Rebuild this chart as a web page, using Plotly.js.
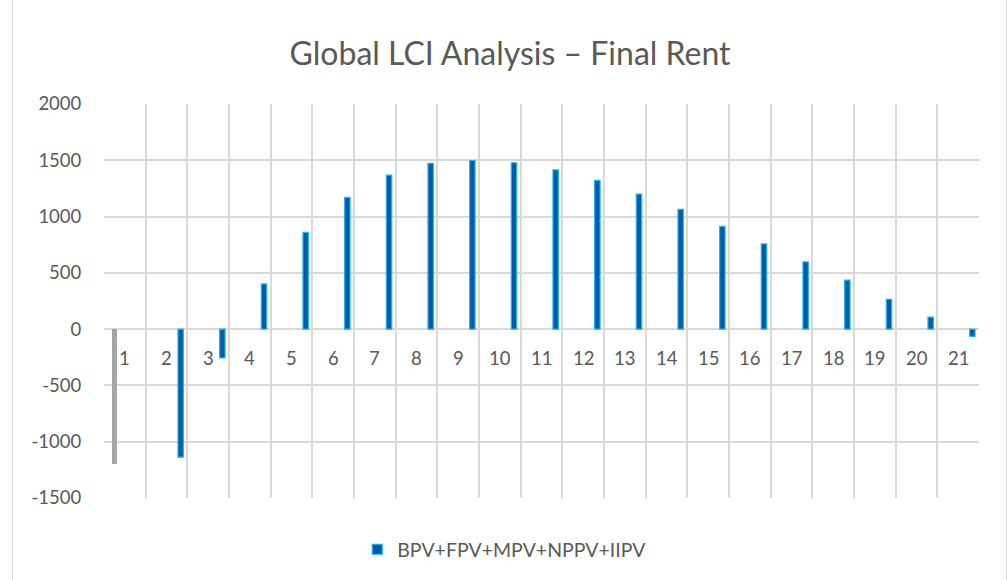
<!DOCTYPE html>
<html>
<head>
<meta charset="utf-8">
<script src="https://cdn.plot.ly/plotly-3.0.1.min.js"></script>
<style>
  html, body { margin: 0; padding: 0; background: #ffffff; }
  #chart { width: 1008px; height: 580px; }
  #frame { position: absolute; left: 12px; top: -2px; width: 993px; height: 590px; border: 1px solid #D9D9D9; pointer-events: none; }
</style>
</head>
<body>
<div id="chart"></div>
<div id="frame"></div>
<script>
// ---- data ----
const categories = ["1","2","3","4","5","6","7","8","9","10","11","12","13","14","15","16","17","18","19","20","21"];
const firstYearCategory = ["1"];
const firstYearValues = [-1200];
const seriesCategories = ["2","3","4","5","6","7","8","9","10","11","12","13","14","15","16","17","18","19","20","21"];
const seriesValues = [-1137, -256, 402, 860, 1170, 1368, 1472, 1498, 1478, 1415, 1322, 1200, 1064, 913, 757, 597, 435, 265, 107, -65];
const seriesName = "BPV+FPV+MPV+NPPV+IIPV";
const yTicks = [-1500, -1000, -500, 0, 500, 1000, 1500, 2000];

const idx = c => categories.indexOf(c) + 1;
const font = "Lato, 'Open Sans', sans-serif";
const grey = "#595959";
const fillBlue = "#005BAA";
const edgeBlue = "#1FB5F0";

const traces = [
  {
    type: "bar",
    x: firstYearCategory.map(idx),
    y: firstYearValues,
    width: 0.12,
    offset: -0.31,
    marker: { color: "#A5A5A5", line: { width: 0 } },
    showlegend: false,
    hoverinfo: "y"
  },
  {
    type: "bar",
    name: seriesName,
    legendgroup: "main",
    x: seriesCategories.map(idx),
    y: seriesValues,
    width: 0.13,
    offset: 0.275,
    marker: { color: fillBlue, line: { color: edgeBlue, width: 1.2 } },
    showlegend: false,
    hoverinfo: "y"
  },
  {
    // legend entry only (square swatch like the original)
    type: "scatter",
    mode: "markers",
    name: seriesName,
    legendgroup: "main",
    x: [null], y: [null],
    marker: { symbol: "square", size: 10, color: fillBlue, line: { color: edgeBlue, width: 1.2 } },
    showlegend: true,
    hoverinfo: "skip"
  }
];

const annotations = categories.map(c => ({
  x: idx(c), y: 0, xref: "x", yref: "y",
  text: c, showarrow: false,
  yshift: -29, yanchor: "middle", xanchor: "center",
  font: { family: font, size: 18.5, color: grey }
}));

const layout = {
  width: 1008, height: 580,
  margin: { l: 104, r: 29, t: 104, b: 81 },
  paper_bgcolor: "#ffffff",
  plot_bgcolor: "#ffffff",
  title: {
    text: "Global LCI Analysis – Final Rent",
    font: { family: font, size: 32, color: grey },
    x: 0.506, xanchor: "center", y: 0.908, yanchor: "middle"
  },
  xaxis: {
    range: [0.5, categories.length + 0.5],
    tickmode: "linear", tick0: 0.5, dtick: 1,
    showticklabels: false,
    showgrid: true, gridcolor: "#D9D9D9", gridwidth: 2,
    zeroline: false, showline: false, ticks: ""
  },
  yaxis: {
    range: [-1500, 2000],
    tickvals: yTicks,
    ticktext: yTicks.map(String),
    showgrid: true, gridcolor: "#D9D9D9", gridwidth: 2,
    zeroline: true, zerolinecolor: "#D9D9D9", zerolinewidth: 2,
    showline: false,
    ticks: "outside", ticklen: 18, tickcolor: "rgba(0,0,0,0)",
    tickfont: { family: font, size: 18.5, color: grey }
  },
  bargap: 0,
  barmode: "overlay",
  showlegend: true,
  legend: {
    orientation: "h",
    x: 0.458, xanchor: "center",
    y: -0.128, yanchor: "middle",
    font: { family: font, size: 19.5, color: grey },
    itemwidth: 30
  },
  annotations: annotations
};

Plotly.newPlot("chart", traces, layout, { displayModeBar: false, staticPlot: true });
</script>
</body>
</html>
